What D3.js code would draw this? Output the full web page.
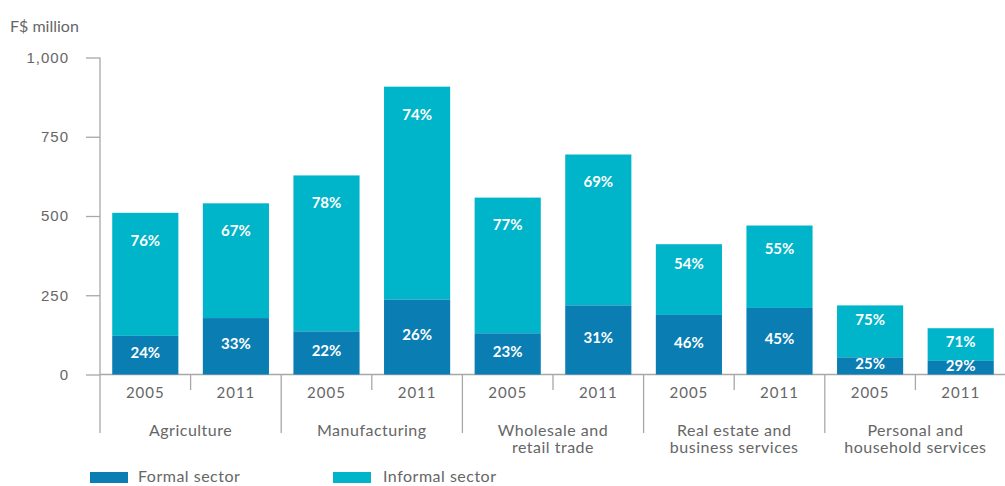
<!DOCTYPE html>
<html><head><meta charset="utf-8">
<script src="https://cdn.jsdelivr.net/npm/d3@7"></script>
<style>body{margin:0;background:#fff}svg{display:block}</style>
</head><body><div id="chart"></div>
<script>
const categories = ["Agriculture","Manufacturing","Wholesale and|retail trade","Real estate and|business services","Personal and|household services"];
const years = ["2005","2011"];
const formalValues   = [122,178,136,236,130,218,188,210,54,43];
const informalValues = [388,362,492,672,428,476,223,260,164,103];
const formalPct   = ["24%","33%","22%","26%","23%","31%","46%","45%","25%","29%"];
const informalPct = ["76%","67%","78%","74%","77%","69%","54%","55%","75%","71%"];
const yTicks = [0,250,500,750,1000];
const seriesNames = ["Formal sector","Informal sector"];
const colors = ["#0a7db3","#00b4c9"];

const W=1005,H=486;
const svg=d3.select("#chart").append("svg").attr("width",W).attr("height",H)
  .style("font-family","Lato, 'Open Sans', sans-serif");
const x0=100, x1=1006, yBase=374.5, yTop=57.5;
const slots=[]; categories.forEach((c,i)=>years.forEach((yr,j)=>slots.push(i*2+j)));
const x=d3.scaleBand().domain(slots).range([x0,x1]).paddingInner(0.27).paddingOuter(0.135);
const y=d3.scaleLinear().domain([0,1000]).range([yBase,yTop]);
const slotW=(x1-x0)/slots.length;
const axisCol="#a8a8a8", textCol="#666";

// y axis
const yAxis=d3.axisLeft(y).tickValues(yTicks).tickSize(14).tickFormat(d3.format(","));
const ga=svg.append("g").attr("transform",`translate(${x0},0)`).call(yAxis);
ga.select(".domain").remove();
ga.selectAll(".tick line").attr("stroke",axisCol).attr("stroke-width",1.3);
ga.selectAll(".tick text").attr("x",-31).attr("fill",textCol).style("font-size","15px").style("letter-spacing","1px");
svg.append("line").attr("x1",x0).attr("x2",x0).attr("y1",yTop).attr("y2",433).attr("stroke",axisCol).attr("stroke-width",1.3);
svg.append("line").attr("x1",x0).attr("x2",W).attr("y1",yBase).attr("y2",yBase).attr("stroke",axisCol).attr("stroke-width",1.3);

svg.append("text").attr("x",10).attr("y",32).text("F$ million").attr("fill",textCol).style("font-size","16px");

// bars
const g=svg.append("g");
slots.forEach(i=>{
  const bx=x(i), bw=x.bandwidth();
  const f=formalValues[i], inf=informalValues[i];
  const infH=y(f)-y(f+inf);
  g.append("rect").attr("x",bx).attr("width",bw).attr("y",y(f+inf)).attr("height",infH).attr("fill",colors[1]);
  g.append("rect").attr("x",bx).attr("width",bw).attr("y",y(f)).attr("height",y(0)-y(f)).attr("fill",colors[0]);
  const off=Math.max(15,Math.min(29,infH*0.3));
  g.append("text").attr("x",bx+bw/2).attr("y",y(f+inf)+off).attr("text-anchor","middle").attr("dominant-baseline","middle")
    .attr("fill","#fff").style("font-size","15px").style("font-weight","bold").text(informalPct[i]);
  g.append("text").attr("x",bx+bw/2).attr("y",(y(f)+y(0))/2-1).attr("text-anchor","middle").attr("dominant-baseline","middle")
    .attr("fill","#fff").style("font-size","15px").style("font-weight","bold").text(formalPct[i]);
  // year label
  svg.append("text").attr("x",bx+bw/2).attr("y",394).attr("text-anchor","middle").attr("dominant-baseline","middle")
    .attr("fill",textCol).style("font-size","15px").style("letter-spacing","1px").text(years[i%2]);
});
// separators
categories.forEach((c,i)=>{
  const sx=x0+slotW*(i*2);
  if(i>0) svg.append("line").attr("x1",sx).attr("x2",sx).attr("y1",yBase).attr("y2",433).attr("stroke",axisCol).attr("stroke-width",1.3);
  const mx=x0+slotW*(i*2+1);
  svg.append("line").attr("x1",mx).attr("x2",mx).attr("y1",yBase).attr("y2",390).attr("stroke",axisCol).attr("stroke-width",1.3);
  const lines=c.split("|");
  const t=svg.append("text").attr("x",mx).attr("y",436).attr("text-anchor","middle").attr("fill",textCol)
    .style("font-size","16px").style("letter-spacing","0.5px");
  lines.forEach((l,k)=>t.append("tspan").attr("x",mx).attr("dy",k?17:0).text(l));
});
// legend
const leg=[{x:90,tx:138},{x:333,tx:383}];
seriesNames.forEach((n,i)=>{
  svg.append("rect").attr("x",leg[i].x).attr("y",472).attr("width",38).attr("height",11).attr("fill",colors[i]);
  svg.append("text").attr("x",leg[i].tx).attr("y",478).attr("dominant-baseline","middle").attr("fill",textCol)
    .style("font-size","16px").style("letter-spacing","0.5px").text(n);
});
</script></body></html>
